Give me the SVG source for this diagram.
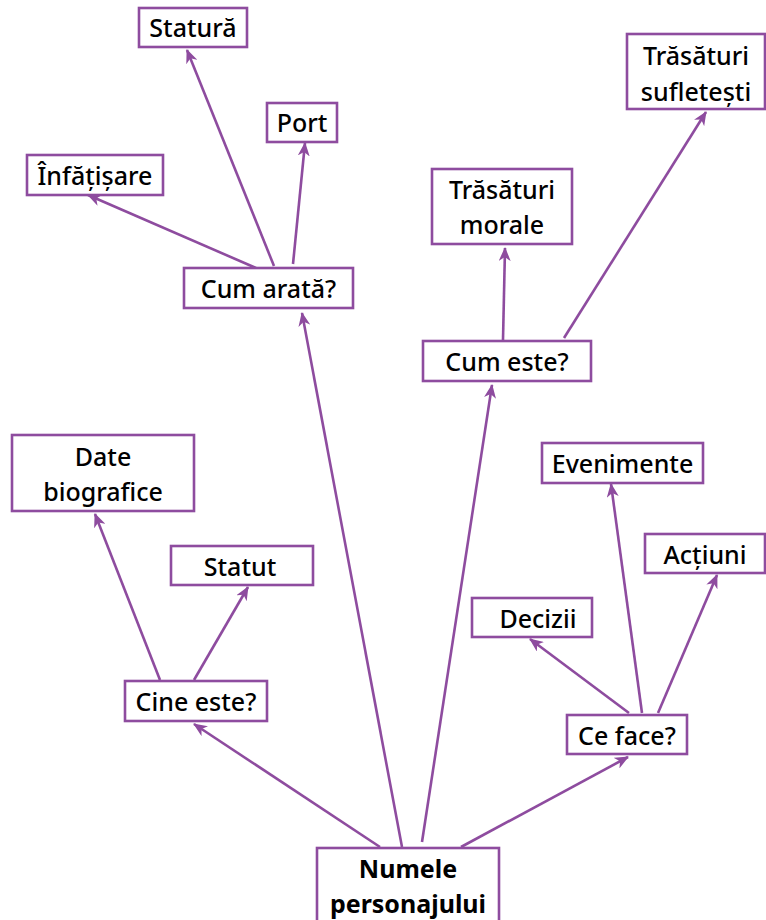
<svg xmlns="http://www.w3.org/2000/svg" width="766" height="920" viewBox="0 0 766 920">
<style>
.box{fill:#fff;stroke:#8E4C9F;stroke-width:2.6}
.t{font-family:"Noto Sans","Open Sans","Liberation Sans",sans-serif;font-size:25px;font-weight:500;fill:#000;text-anchor:middle}
.b{font-weight:bold}
.c{stroke:#8E4C9F;stroke-width:2.6;fill:none;marker-end:url(#ah)}
</style>
<defs>
<marker id="ah" markerUnits="userSpaceOnUse" viewBox="0 0 14 12" refX="13" refY="6" markerWidth="14" markerHeight="12" orient="auto">
<path d="M0,0 L14,6 L0,12 L4,6 z" fill="#8E4C9F"/>
</marker>
</defs>
<rect width="766" height="920" fill="#fff"/>
<g id="connectors">
<line class="c" x1="380" y1="847" x2="194" y2="724"/>
<line class="c" x1="402" y1="847" x2="302" y2="313"/>
<line class="c" x1="422" y1="842" x2="492" y2="385"/>
<line class="c" x1="461" y1="847" x2="628" y2="757"/>
<line class="c" x1="256" y1="268" x2="88" y2="195"/>
<line class="c" x1="274" y1="266" x2="187" y2="50"/>
<line class="c" x1="293" y1="264" x2="305" y2="143"/>
<line class="c" x1="503" y1="340" x2="505" y2="248"/>
<line class="c" x1="564" y1="338" x2="706" y2="112"/>
<line class="c" x1="160" y1="680" x2="95" y2="514"/>
<line class="c" x1="194" y1="680" x2="248" y2="587"/>
<line class="c" x1="629" y1="713" x2="530" y2="639"/>
<line class="c" x1="642" y1="713" x2="611" y2="484"/>
<line class="c" x1="658" y1="713" x2="717" y2="575"/>
</g>
<g id="n-statura"><rect class="box" x="139" y="8" width="108" height="39"/><text class="t" x="193" y="37">Statură</text></g>
<g id="n-port"><rect class="box" x="267" y="103" width="70" height="39"/><text class="t" x="302" y="132">Port</text></g>
<g id="n-infatisare"><rect class="box" x="27" y="155" width="136" height="40"/><text class="t" x="95" y="185">Înfățișare</text></g>
<g id="n-cumarata"><rect class="box" x="184" y="268" width="169" height="40"/><text class="t" x="268.5" y="298">Cum arată?</text></g>
<g id="n-morale"><rect class="box" x="432" y="169" width="140" height="75"/><text class="t" x="502" y="199">Trăsături</text><text class="t" x="502" y="234">morale</text></g>
<g id="n-sufletesti"><rect class="box" x="627" y="34" width="138" height="75"/><text class="t" x="696" y="65">Trăsături</text><text class="t" x="696" y="101">sufletești</text></g>
<g id="n-cumeste"><rect class="box" x="423" y="341" width="168" height="40"/><text class="t" x="507" y="371">Cum este?</text></g>
<g id="n-date"><rect class="box" x="12" y="435" width="182" height="76"/><text class="t" x="103" y="466">Date</text><text class="t" x="103" y="501">biografice</text></g>
<g id="n-statut"><rect class="box" x="171" y="546" width="142" height="39"/><text class="t" x="240" y="576">Statut</text></g>
<g id="n-cineeste"><rect class="box" x="125" y="681" width="142" height="40"/><text class="t" x="196" y="711">Cine este?</text></g>
<g id="n-evenimente"><rect class="box" x="542" y="443" width="161" height="40"/><text class="t" x="622.5" y="473">Evenimente</text></g>
<g id="n-actiuni"><rect class="box" x="645" y="534" width="120" height="39"/><text class="t" x="705" y="564">Acțiuni</text></g>
<g id="n-decizii"><rect class="box" x="472" y="598" width="120" height="39"/><text class="t" x="538" y="628">Decizii</text></g>
<g id="n-ceface"><rect class="box" x="567" y="715" width="120" height="39"/><text class="t" x="627" y="745">Ce face?</text></g>
<g id="n-numele"><rect class="box" x="317" y="848" width="182" height="80"/><text class="t b" x="408" y="878">Numele</text><text class="t b" x="408" y="913">personajului</text></g>
</svg>
